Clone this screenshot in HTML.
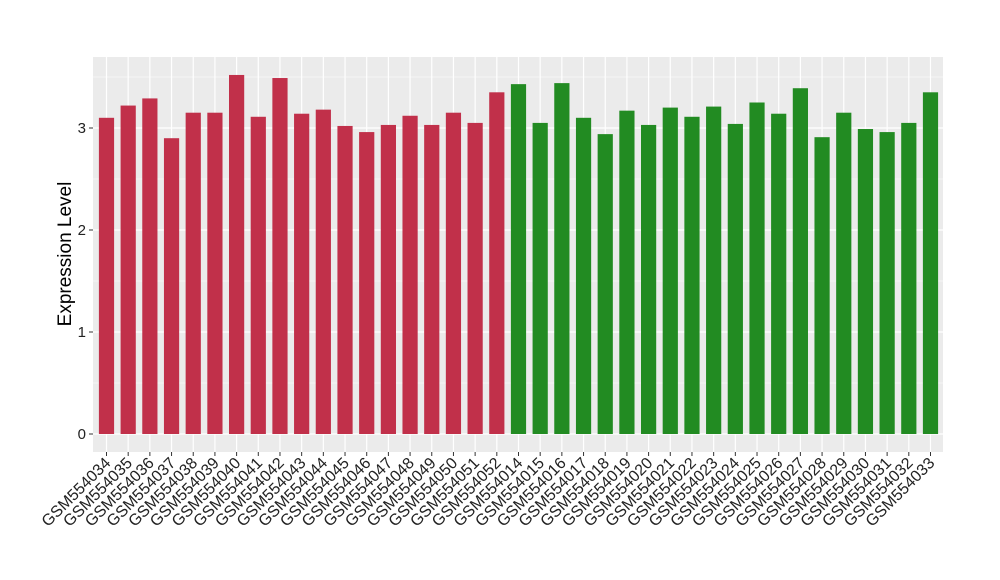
<!DOCTYPE html>
<html><head><meta charset="utf-8"><style>body{margin:0;background:#fff}svg{display:block}</style></head>
<body>
<svg id="c" width="1000" height="580" xmlns="http://www.w3.org/2000/svg" font-family="Liberation Sans, Arial, sans-serif"></svg>
<script>
const vals=[3.10,3.22,3.29,2.90,3.15,3.15,3.52,3.11,3.49,3.14,3.18,3.02,2.96,3.03,3.12,3.03,3.15,3.05,3.35,
3.43,3.05,3.44,3.10,2.94,3.17,3.03,3.20,3.11,3.21,3.04,3.25,3.14,3.39,2.91,3.15,2.99,2.96,3.05,3.35];
const names=[];for(let i=34;i<=52;i++)names.push("GSM5540"+i);for(let i=14;i<=33;i++)names.push("GSM5540"+i);
const L=93,R=943,T=57,B=452,y0=434,k=102,x0=106.5,dx=21.684;
let s=`<rect x="${L}" y="${T}" width="${R-L}" height="${B-T}" fill="#EBEBEB"/>`;
for(let v=0.5;v<3.9;v+=1){const y=y0-k*v;if(y>T)s+=`<line x1="${L}" x2="${R}" y1="${y}" y2="${y}" stroke="#fff" stroke-width="0.6"/>`;}
for(let v=0;v<=3;v++){const y=y0-k*v;s+=`<line x1="${L}" x2="${R}" y1="${y}" y2="${y}" stroke="#fff" stroke-width="1.2"/>`;
s+=`<line x1="${L-4}" x2="${L}" y1="${y}" y2="${y}" stroke="#333" stroke-width="1"/>`;
s+=`<text x="${L-7}" y="${y+5}" font-size="15" text-anchor="end" fill="#222">${v}</text>`;}
vals.forEach((v,i)=>{const cx=x0+dx*i;
s+=`<line x1="${cx}" x2="${cx}" y1="${T}" y2="${B}" stroke="#fff" stroke-width="1.2"/>`;});
vals.forEach((v,i)=>{const cx=x0+dx*i;const top=y0-k*v;
s+=`<rect x="${cx-7.6}" y="${top}" width="15.2" height="${y0-top}" fill="${i<19?'#C1304A':'#228B22'}"/>`;
s+=`<line x1="${cx}" x2="${cx}" y1="${B}" y2="${B+4}" stroke="#333" stroke-width="1"/>`;
s+=`<text transform="translate(${cx+5},${B+12}) rotate(-45)" font-size="16" text-anchor="end" fill="#222">${names[i]}</text>`;});
s+=`<text transform="translate(71,254) rotate(-90)" font-size="19" text-anchor="middle" fill="#000">Expression Level</text>`;
document.getElementById('c').innerHTML=s;
</script>
</body></html>
